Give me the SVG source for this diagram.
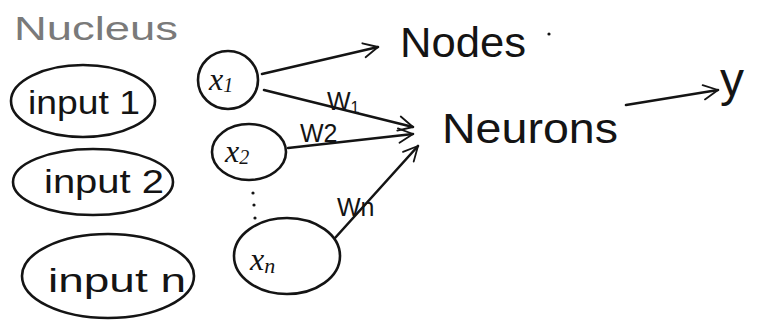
<svg xmlns="http://www.w3.org/2000/svg" width="763" height="322" viewBox="0 0 763 322">
  <style>
    .ink { fill: none; stroke: #141414; stroke-width: 2.6; stroke-linecap: round; stroke-linejoin: round; }
    .lbl { font-family: "Liberation Sans", "DejaVu Sans", sans-serif; fill: #141414; }
    .big { font-size: 42px; }
    .mid { font-size: 34px; }
    .var { font-family: "Liberation Serif", serif; font-style: italic; font-size: 32px; fill: #141414; }
    .w { font-family: "Liberation Sans", sans-serif; font-size: 25px; fill: #141414; }
  </style>
  <defs>
    <marker id="open" viewBox="0 0 20 20" refX="18" refY="10" markerWidth="18" markerHeight="18" orient="auto" markerUnits="userSpaceOnUse">
      <path d="M2 2 L18 10 L2 18" fill="none" stroke="#141414" stroke-width="2" stroke-linecap="round" stroke-linejoin="round"/>
    </marker>
  </defs>
  <rect width="763" height="322" fill="#ffffff"/>

  <text x="14" y="40" font-family="Liberation Sans, sans-serif" font-size="34" textLength="164" lengthAdjust="spacingAndGlyphs" fill="#7a7a7a">Nucleus</text>

  <g id="input1">
    <ellipse class="ink" cx="83" cy="101" rx="72" ry="36"/>
    <text class="lbl mid" x="28" y="114" textLength="112" lengthAdjust="spacingAndGlyphs">input 1</text>
  </g>
  <g id="input2">
    <ellipse class="ink" cx="93" cy="182" rx="80" ry="33"/>
    <text class="lbl mid" x="44" y="193" textLength="120" lengthAdjust="spacingAndGlyphs">input 2</text>
  </g>
  <g id="inputn">
    <ellipse class="ink" cx="108" cy="276" rx="86" ry="42"/>
    <text class="lbl mid" x="48" y="292" textLength="138" lengthAdjust="spacingAndGlyphs">input n</text>
  </g>

  <g id="x1">
    <ellipse class="ink" cx="228" cy="80" rx="30" ry="29"/>
    <text class="var" x="209" y="90">x<tspan font-size="20" dy="2">1</tspan></text>
  </g>
  <g id="x2">
    <ellipse class="ink" cx="249" cy="152" rx="37" ry="28"/>
    <text class="var" x="225" y="162">x<tspan font-size="20" dy="2">2</tspan></text>
  </g>
  <g id="dots">
    <circle cx="253" cy="193" r="1.6" fill="#141414"/>
    <circle cx="254" cy="205" r="1.6" fill="#141414"/>
    <circle cx="255" cy="218" r="1.6" fill="#141414"/>
  </g>
  <g id="xn">
    <ellipse class="ink" cx="287" cy="256" rx="53" ry="38"/>
    <text class="var" x="250" y="270">x<tspan font-size="22" dy="3">n</tspan></text>
  </g>

  <g id="nodes">
    <text class="lbl big" x="400" y="57" textLength="126" lengthAdjust="spacingAndGlyphs">Nodes</text>
    <circle cx="549" cy="34" r="1.6" fill="#141414"/>
  </g>
  <g id="neurons">
    <text class="lbl big" x="442" y="143" textLength="176" lengthAdjust="spacingAndGlyphs">Neurons</text>
  </g>
  <g id="y">
    <text class="lbl" x="720" y="96" font-size="48">y</text>
  </g>

  <g id="connectors">
    <path class="ink" d="M262 74 L378 47" marker-end="url(#open)"/>
    <path class="ink" d="M264 90 L413 127" marker-end="url(#open)"/>
    <path class="ink" d="M288 148 L413 134" marker-end="url(#open)"/>
    <path class="ink" d="M335 238 L418 146" marker-end="url(#open)"/>
    <path class="ink" d="M626 105 L718 90" marker-end="url(#open)"/>
    <text class="w" x="327" y="110">W<tspan font-size="16" dy="3">1</tspan></text>
    <text class="w" x="300" y="142">W2</text>
    <text class="w" x="337" y="216">Wn</text>
  </g>
</svg>
